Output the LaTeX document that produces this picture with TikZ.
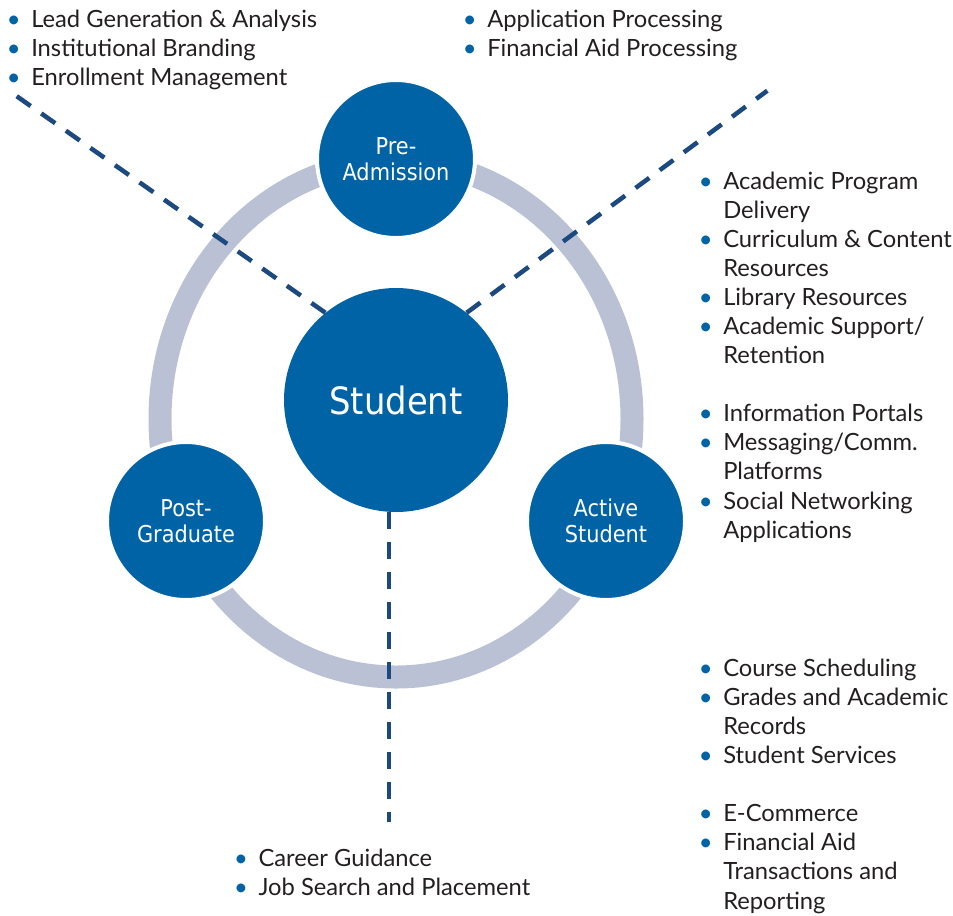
\documentclass[tikz,border=0pt]{standalone}
\usepackage{fontspec}
\setmainfont{Lato}
\newfontfamily\circfont[FakeStretch=0.9]{DejaVu Sans}
\definecolor{circblue}{RGB}{0,99,166}
\definecolor{ringgray}{RGB}{186,193,212}
\definecolor{dashblue}{RGB}{27,73,128}
\definecolor{txtgray}{RGB}{35,31,32}
\newcommand{\bul}{\llap{\textcolor{circblue}{•}\hspace{8pt}}}
\begin{document}
\begin{tikzpicture}[x=0.75pt,y=-0.75pt,
    stage/.style={circle,fill=circblue,draw=white,line width=3pt,minimum size=118.5pt,inner sep=0pt,
        text=white,align=center,font=\circfont\fontsize{17.4}{19.5}\selectfont},
    core/.style={circle,fill=circblue,minimum size=168pt,inner sep=0pt,text=white,
        font=\circfont\fontsize{28.2}{30}\selectfont},
    items/.style={anchor=base west,inner sep=0pt,text=txtgray,font=\fontsize{17.8}{21.83}\selectfont},
    link/.style={dashblue,line width=3.4pt,dash pattern=on 12.75pt off 9.75pt}]
            \useasboundingbox (0,0) rectangle (953,915);
            \draw[ringgray,line width=17.25pt] (396,419) ellipse [x radius=177pt,y radius=193.5pt];
            \draw (396,400) node[core] (stu) {Student};
            \draw (396,159) node[stage] (pre) {Pre-\\Admission};
            \draw (186,521) node[stage] (post) {Post-\\Graduate};
            \draw (606,521) node[stage] (act) {Active\\Student};
            \coordinate (ulend) at (11.7,92.7);
            \coordinate (urend) at (767.3,90.7);
            \coordinate (btend) at (389,821.7);
            \draw[link] (stu.129) -- (ulend);
            \draw[link] (stu.51) -- (urend);
            \draw[link] (btend |- stu.south) -- (btend);
            \node[items] (prelist) at (31,27.3) {\begin{tabular}[t]{@{}l@{}}
                \bul Lead Generation \& Analysis\\ \bul Institutional Branding\\ \bul Enrollment Management\end{tabular}};
            \node[items] (applist) at (487,27.3) {\begin{tabular}[t]{@{}l@{}}
                \bul Application Processing\\ \bul Financial Aid Processing\end{tabular}};
            \node[items] (acadlist) at (723,189.3) {\begin{tabular}[t]{@{}l@{}}
                \bul Academic Program\\ Delivery\\ \bul Curriculum \& Content\\ Resources\\
                \bul Library Resources\\ \bul Academic Support/\\ Retention\end{tabular}};
            \node[items] (commlist) at (723,421.7) {\begin{tabular}[t]{@{}l@{}}
                \bul Information Portals\\ \bul Messaging/Comm.\\ Platforms\\
                \bul Social Networking\\ Applications\end{tabular}};
            \node[items] (reclist) at (723,676) {\begin{tabular}[t]{@{}l@{}}
                \bul Course Scheduling\\ \bul Grades and Academic\\ Records\\ \bul Student Services\end{tabular}};
            \node[items] (paylist) at (723,821.7) {\begin{tabular}[t]{@{}l@{}}
                \bul E-Commerce\\ \bul Financial Aid\\ Transactions and\\ Reporting\end{tabular}};
            \node[items] (careerlist) at (258.3,866) {\begin{tabular}[t]{@{}l@{}}
                \bul Career Guidance\\ \bul Job Search and Placement\end{tabular}};
\end{tikzpicture}
\end{document}
